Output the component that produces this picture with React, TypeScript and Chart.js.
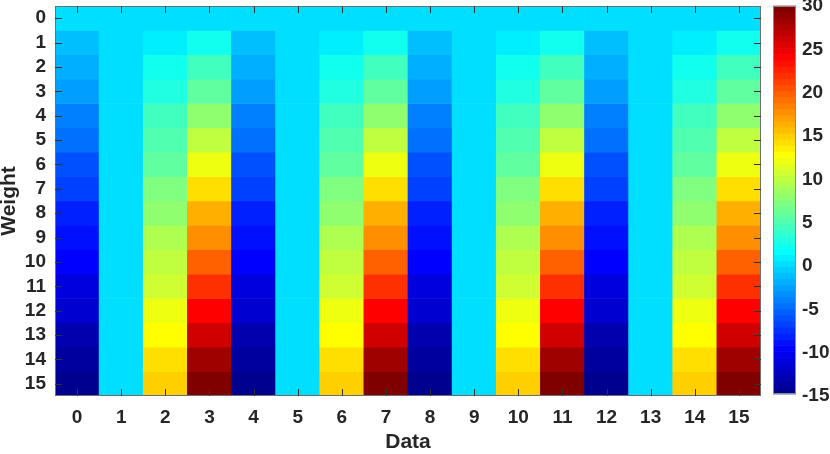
import React, { useEffect, useRef } from 'react';
import { Chart, registerables } from 'chart.js';

Chart.register(...registerables);

// ---- data ----
const dataLabels = ['0', '1', '2', '3', '4', '5', '6', '7', '8', '9', '10', '11', '12', '13', '14', '15'];
const weightLabels = [0, 1, 2, 3, 4, 5, 6, 7, 8, 9, 10, 11, 12, 13, 14, 15];
const colorbarTicks = [-15, -10, -5, 0, 5, 10, 15, 20, 25, 30];
const colorMin = -15;
const colorMax = 30;

const row0 = [0, 0, 0, 0, 0, 0, 0, 0, 0, 0, 0, 0, 0, 0, 0, 0];
const row1 = [-1, 0, 1, 2, -1, 0, 1, 2, -1, 0, 1, 2, -1, 0, 1, 2];
const row2 = [-2, 0, 2, 4, -2, 0, 2, 4, -2, 0, 2, 4, -2, 0, 2, 4];
const row3 = [-3, 0, 3, 6, -3, 0, 3, 6, -3, 0, 3, 6, -3, 0, 3, 6];
const row4 = [-4, 0, 4, 8, -4, 0, 4, 8, -4, 0, 4, 8, -4, 0, 4, 8];
const row5 = [-5, 0, 5, 10, -5, 0, 5, 10, -5, 0, 5, 10, -5, 0, 5, 10];
const row6 = [-6, 0, 6, 12, -6, 0, 6, 12, -6, 0, 6, 12, -6, 0, 6, 12];
const row7 = [-7, 0, 7, 14, -7, 0, 7, 14, -7, 0, 7, 14, -7, 0, 7, 14];
const row8 = [-8, 0, 8, 16, -8, 0, 8, 16, -8, 0, 8, 16, -8, 0, 8, 16];
const row9 = [-9, 0, 9, 18, -9, 0, 9, 18, -9, 0, 9, 18, -9, 0, 9, 18];
const row10 = [-10, 0, 10, 20, -10, 0, 10, 20, -10, 0, 10, 20, -10, 0, 10, 20];
const row11 = [-11, 0, 11, 22, -11, 0, 11, 22, -11, 0, 11, 22, -11, 0, 11, 22];
const row12 = [-12, 0, 12, 24, -12, 0, 12, 24, -12, 0, 12, 24, -12, 0, 12, 24];
const row13 = [-13, 0, 13, 26, -13, 0, 13, 26, -13, 0, 13, 26, -13, 0, 13, 26];
const row14 = [-14, 0, 14, 28, -14, 0, 14, 28, -14, 0, 14, 28, -14, 0, 14, 28];
const row15 = [-15, 0, 15, 30, -15, 0, 15, 30, -15, 0, 15, 30, -15, 0, 15, 30];
const cellValues = [row0, row1, row2, row3, row4, row5, row6, row7, row8, row9, row10, row11, row12, row13, row14, row15];

// ---- MATLAB-style jet(64) colormap ----
function buildJet(m: number): string[] {
  const n = Math.ceil(m / 4);
  const u: number[] = [];
  for (let i = 1; i <= n; i++) u.push(i / n);
  for (let i = 1; i < n; i++) u.push(1);
  for (let i = n; i >= 1; i--) u.push(i / n);
  const R = new Array(m).fill(0);
  const G = new Array(m).fill(0);
  const B = new Array(m).fill(0);
  const off = Math.ceil(n / 2) - (m % 4 === 1 ? 1 : 0);
  for (let k = 0; k < u.length; k++) {
    const g = off + k + 1;
    const r = g + n;
    const b = g - n;
    if (g >= 1 && g <= m) G[g - 1] = u[k];
    if (r >= 1 && r <= m) R[r - 1] = u[k];
    if (b >= 1 && b <= m) B[b - 1] = u[k];
  }
  const out: string[] = [];
  for (let i = 0; i < m; i++) {
    out.push(`rgb(${Math.round(R[i] * 255)},${Math.round(G[i] * 255)},${Math.round(B[i] * 255)})`);
  }
  return out;
}
const JET = buildJet(64);
function colorFor(v: number): string {
  let idx = Math.floor(((v - colorMin) / (colorMax - colorMin)) * JET.length);
  if (idx < 0) idx = 0;
  if (idx > JET.length - 1) idx = JET.length - 1;
  return JET[idx];
}

const FONT = '"Liberation Sans", Arial, Helvetica, sans-serif';
const TEXT = '#262626';

const decorPlugin = {
  id: 'decor',
  afterDatasetsDraw(chart: any) {
    const { ctx, chartArea } = chart;
    const { left, right, top, bottom } = chartArea;
    const xs = chart.scales.x;
    const ys = chart.scales.y;
    const cb = chart.scales.cb;
    ctx.save();
    // box
    ctx.strokeStyle = '#6e6e6e';
    ctx.lineWidth = 1;
    ctx.strokeRect(Math.round(left) + 0.5, Math.round(top) + 0.5, Math.round(right - left) - 1, Math.round(bottom - top) - 1);
    // inward ticks
    ctx.strokeStyle = '#333';
    ctx.beginPath();
    const tl = 7;
    dataLabels.forEach((_, i) => {
      const x = Math.round(xs.getPixelForValue(i)) + 0.5;
      ctx.moveTo(x, bottom);
      ctx.lineTo(x, bottom - tl);
      ctx.moveTo(x, top);
      ctx.lineTo(x, top + tl);
    });
    weightLabels.forEach((w) => {
      const y = Math.round(ys.getPixelForValue(w)) + 0.5;
      ctx.moveTo(left, y);
      ctx.lineTo(left + tl, y);
      ctx.moveTo(right, y);
      ctx.lineTo(right - tl, y);
    });
    ctx.stroke();

    // colorbar
    const cbLeft = right + 12;
    const cbW = 23;
    const n = JET.length;
    const cTop = cb.getPixelForValue(colorMax);
    const cBot = cb.getPixelForValue(colorMin) - 2;
    for (let i = 0; i < n; i++) {
      const y0 = cBot - ((cBot - cTop) * i) / n;
      const y1 = cBot - ((cBot - cTop) * (i + 1)) / n;
      ctx.fillStyle = JET[i];
      ctx.fillRect(cbLeft, y1 - 0.3, cbW, y0 - y1 + 0.6);
    }
    ctx.strokeStyle = '#8a8a8a';
    ctx.strokeRect(Math.round(cbLeft) + 0.5, Math.round(cTop) + 0.5, cbW - 1, Math.round(cBot - cTop) - 1);

    // axis titles
    ctx.fillStyle = TEXT;
    ctx.font = `bold 21px ${FONT}`;
    ctx.textAlign = 'center';
    ctx.textBaseline = 'middle';
    ctx.fillText('Data', (left + right) / 2, 442);
    ctx.translate(9, (top + bottom) / 2);
    ctx.rotate(-Math.PI / 2);
    ctx.fillText('Weight', 0, 0);
    ctx.restore();
  },
};

export default function App() {
  const ref = useRef<HTMLCanvasElement | null>(null);
  useEffect(() => {
    if (!ref.current) return;
    const datasets = weightLabels.map((w, wi) => ({
      label: 'Weight ' + w,
      data: cellValues[wi].map(() => [w - 0.5, w + 0.5]),
      backgroundColor: cellValues[wi].map((v) => colorFor(v)),
      borderWidth: 0,
      grouped: false,
      barPercentage: 1,
      categoryPercentage: 1,
      yAxisID: 'y',
    }));
    const tickFont = { family: FONT, size: 19, weight: 'bold' as const };
    const vFont = { family: FONT, size: 19, weight: 'bold' as const, lineHeight: 0.5 };
    const chart = new Chart(ref.current, {
      type: 'bar',
      data: { labels: dataLabels, datasets },
      plugins: [decorPlugin],
      options: {
        animation: false,
        responsive: false,
        events: [],
        layout: { padding: { top: 6, left: 0, right: 0, bottom: 0 } },
        plugins: { legend: { display: false }, tooltip: { enabled: false } },
        scales: {
          x: {
            type: 'category',
            offset: true,
            grid: { display: false, drawTicks: false },
            border: { display: false },
            ticks: { font: tickFont, color: TEXT, padding: 10, maxRotation: 0, autoSkip: false },
            afterFit: (s: any) => { s.height = 58; },
          },
          y: {
            type: 'linear',
            position: 'left',
            min: -0.5,
            max: 15.5,
            reverse: true,
            grid: { display: false, drawTicks: true, tickLength: 9 },
            border: { display: false },
            afterBuildTicks: (s: any) => { s.ticks = weightLabels.map((v) => ({ value: v })); },
            ticks: { font: vFont, color: TEXT, padding: 0, autoSkip: false },
            afterFit: (s: any) => { s.width = 55; },
          },
          cb: {
            type: 'linear',
            position: 'right',
            min: colorMin,
            max: colorMax,
            grid: { display: false, drawTicks: true, tickLength: 41 },
            border: { display: false },
            afterBuildTicks: (s: any) => { s.ticks = colorbarTicks.map((v) => ({ value: v })); },
            ticks: { font: vFont, color: TEXT, padding: 0, autoSkip: false },
            afterFit: (s: any) => { s.width = 69; },
          },
        },
      } as any,
    });
    return () => chart.destroy();
  }, []);
  return (
    <div style={{ position: 'absolute', left: 0, top: 0, width: 830, height: 454, background: '#fff' }}>
      <canvas ref={ref} width={830} height={454} style={{ display: 'block', width: 830, height: 454 }} />
    </div>
  );
}
